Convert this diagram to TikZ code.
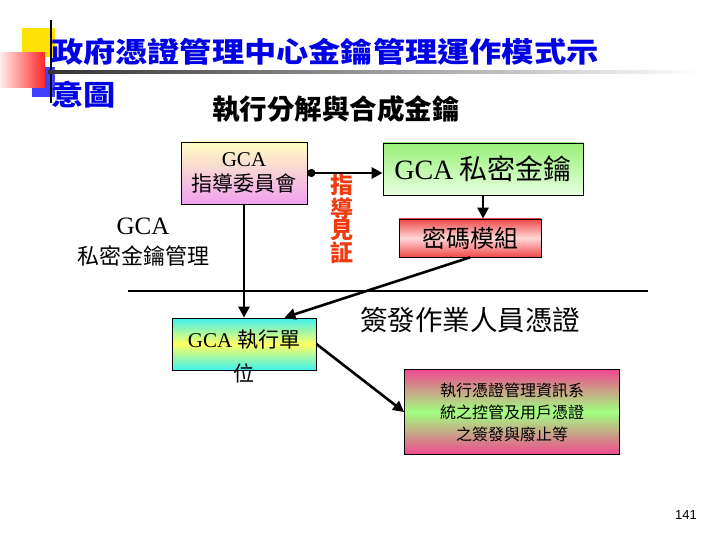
\documentclass[tikz,border=0pt]{standalone}
\usepackage{fontspec}
\setmainfont{Liberation Serif}
\newfontfamily\cjk{Noto Sans CJK TC}
\newfontfamily\cjktitle[FakeStretch=1.15]{Noto Sans CJK TC}
\newfontfamily\pagefont{Liberation Sans}
\usetikzlibrary{arrows.meta}

\definecolor{titleblue}{HTML}{0000E6}
\definecolor{vouchred}{HTML}{F03A10}
\definecolor{guidetop}{HTML}{FFFFC0}
\definecolor{guidebot}{HTML}{F0A0F0}
\definecolor{keytop}{HTML}{98F078}
\definecolor{keybot}{HTML}{E8FFE0}
\definecolor{modred}{HTML}{F04848}
\definecolor{modmid}{HTML}{FFD8D8}
\definecolor{unitcyan}{HTML}{40F0F0}
\definecolor{unityellow}{HTML}{FFFF60}
\definecolor{opspink}{HTML}{F04890}
\definecolor{opsgreen}{HTML}{A0FF80}

\pgfdeclareverticalshading{modshade}{100bp}{color(0bp)=(modred); color(25bp)=(modred);
  color(50bp)=(modmid); color(75bp)=(modred); color(100bp)=(modred)}
\pgfdeclareverticalshading{unitshade}{100bp}{color(0bp)=(unitcyan); color(25bp)=(unitcyan);
  color(50bp)=(unityellow); color(75bp)=(unitcyan); color(100bp)=(unitcyan)}
\pgfdeclareverticalshading{opsshade}{100bp}{color(0bp)=(opspink); color(25bp)=(opspink);
  color(50bp)=(opsgreen); color(75bp)=(opspink); color(100bp)=(opspink)}

\tikzset{
  box/.style={draw, line width=0.8pt, inner sep=0pt, align=center},
  link/.style={line width=2.6pt},
}

\begin{document}
\begin{tikzpicture}[x=1pt, y=-1pt, >={Triangle[length=11pt,width=11pt]}]
        \useasboundingbox (0,0) rectangle (720,540);

        % Corner decoration
        \fill[yellow!85!orange] (22,28) rectangle (55,57);
        \fill[blue!75] (32,67) rectangle (55,97);
        \shade[left color=red!8, right color=red!85] (0,53) rectangle (45,88);
        \draw[line width=1.6pt] (51,20) -- (51,103);
        \shade[left color=black!80, right color=white] (48,71) rectangle (700,74);

        % Titles
        \node(title) [anchor=west, inner sep=0pt, align=left, text=titleblue,
            font=\cjktitle\bfseries\fontsize{28}{43}\selectfont]
            at (51,73) {政府憑證管理中心金鑰管理運作模式示\\意圖};
        \node(subtitle) [inner sep=0pt, font=\cjk\bfseries\fontsize{27.5}{30}\selectfont]
            at (336,109) {執行分解與合成金鑰};

        % Nodes
        \node(guide) [box, minimum width=126pt, minimum height=62pt,
            top color=guidetop, bottom color=guidebot,
            font=\cjk\fontsize{21}{25}\selectfont] at (244,173)
            {{\rmfamily GCA}\\指導委員會};
        \node(key) [box, minimum width=200pt, minimum height=52pt,
            top color=keytop, bottom color=keybot,
            font=\cjk\fontsize{28}{30}\selectfont] at (483,169)
            {{\rmfamily GCA} 私密金鑰};
        \node(module) [box, minimum width=142pt, minimum height=38pt,
            shade, shading=modshade, font=\cjk\fontsize{24}{26}\selectfont] at (470,238)
            {密碼模組};
        \node(unit) [box, minimum width=144pt, minimum height=52pt,
            shade, shading=unitshade] at (244,344) {};
        \node(unittext) [align=center, inner sep=0pt,
            font=\cjk\fontsize{21}{34}\selectfont] at (244,356)
            {{\rmfamily GCA} 執行單\\位};
        \node(ops) [box, minimum width=215pt, minimum height=85pt,
            shade, shading=opsshade, font=\cjk\fontsize{16}{22}\selectfont] at (512,412)
            {執行憑證管理資訊系\\統之控管及用戶憑證\\之簽發與廢止等};

        % Labels
        \node(keymgmt) [align=center, inner sep=0pt,
            font=\cjk\fontsize{22}{30}\selectfont] at (143,242)
            {{\rmfamily\fontsize{25}{30}\selectfont GCA}\\私密金鑰管理};
        \node(vouch) [align=center, inner sep=0pt, text=vouchred,
            font=\cjk\bfseries\fontsize{23}{21.5}\selectfont] at (342,219)
            {指\\導\\見\\証};
        \node(issue) [inner sep=0pt, font=\cjk\fontsize{27.5}{30}\selectfont] at (470,320)
            {簽發作業人員憑證};
        \node(page) [inner sep=0pt, font=\pagefont\fontsize{13}{15}\selectfont] at (686,515) {141};

        % Edges
        \coordinate(ruleL) at (128,291);
        \coordinate(ruleR) at (648,291);
        \draw[line width=2.8pt] (ruleL) -- (ruleR);
        \draw[link, {Circle[length=8pt]}->] (guide.east) -- (guide.east -| key.west);
        \draw[link, ->] (key.south) -- (key.south |- module.north);
        \draw[link, ->] (guide.south) -- (unit.north);
        \draw[link, ->] (module.south) -- ([xshift=-32pt]unit.north east);
        \draw[link, ->] (unit.east) -- (ops.west);
    \end{tikzpicture}
\end{document}
